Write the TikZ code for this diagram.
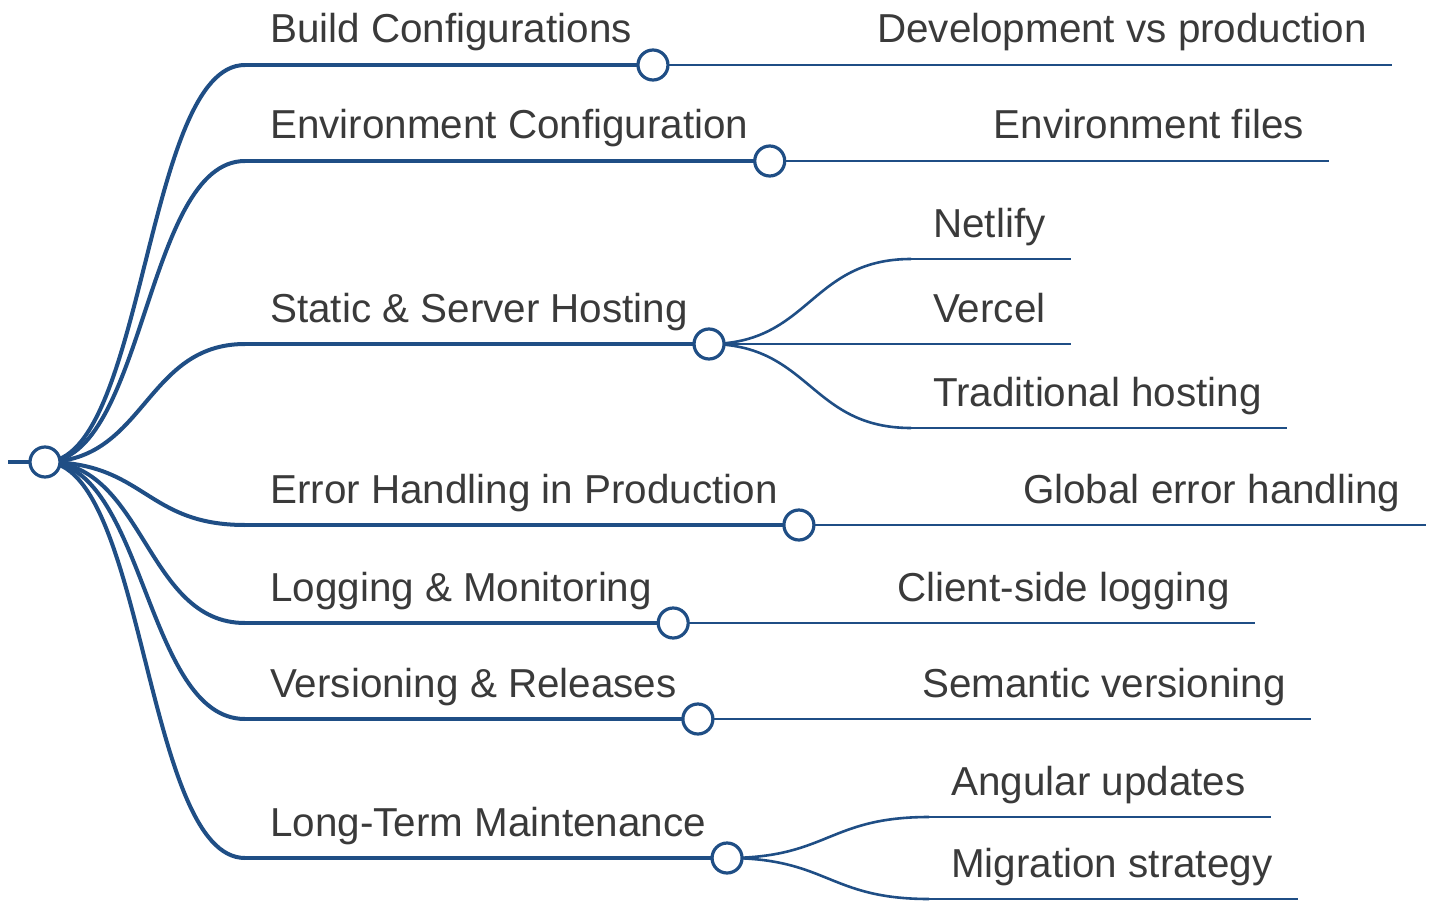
\documentclass[tikz,border=0pt]{standalone}
\usepackage{fontspec}
\setmainfont{Liberation Sans}
\usetikzlibrary{calc}
\definecolor{linec}{HTML}{1F4E85}
\definecolor{txtc}{HTML}{3A3A3A}
\tikzset{
  lbl/.style={text=txtc, inner sep=0pt, anchor=base west, font=\fontsize{40.4}{48}\selectfont},
  dot/.style={circle, draw=linec, fill=white, line width=3.2pt, minimum size=30pt, inner sep=0pt},
  rootline/.style={draw=linec, line width=4pt},
  midline/.style={draw=linec, line width=3.2pt},
  leafline/.style={draw=linec, line width=2.6pt},
}
\begin{document}
\begin{tikzpicture}[x=1pt,y=-1pt]
\useasboundingbox (0,0) rectangle (1431,901);

% root
\coordinate (rootstart) at (8,462);
\coordinate (rootc) at (45,462);

% first-level branches: start point, label, circle position
\foreach \y/\n/\t in {65/b1/Build Configurations,
                      161/b2/Environment Configuration,
                      344/b3/Static \& Server Hosting,
                      525/b4/Error Handling in Production,
                      623/b5/Logging \& Monitoring,
                      719/b6/Versioning \& Releases,
                      858/b7/Long-Term Maintenance} {
  \coordinate (s\n) at (245,\y);
  \node[lbl] (t\n) at (270,\y-22) {\t};
  \coordinate (c\n) at ($(t\n.base east)+(21,22)$);
  \draw[rootline] (rootc) .. controls +(100,0) and +(-100,0) .. (s\n);
  \draw[midline] (s\n) -- (c\n);
}

% leaves
\foreach \p/\d/\n/\t in {b1/0/k1/Development vs production,
                         b2/0/k2/Environment files,
                         b3/-85/k3/Netlify,
                         b3/0/k4/Vercel,
                         b3/84/k5/Traditional hosting,
                         b4/0/k6/Global error handling,
                         b5/0/k7/Client-side logging,
                         b6/0/k8/Semantic versioning,
                         b7/-41/k9/Angular updates,
                         b7/41/k10/Migration strategy} {
  \coordinate (s\n) at ($(c\p)+(202,\d)$);
  \node[lbl] (t\n) at ($(s\n)+(22,-22)$) {\t};
  \coordinate (e\n) at ($(t\n.base east)+(25,22)$);
  \draw[leafline] (c\p) .. controls +(101,0) and +(-101,0) .. (s\n);
  \draw[leafline] (s\n) -- (e\n);
}

% root stub and circles on top of the links
\draw[rootline] (rootstart) -- (rootc);
\node[dot] (root) at (rootc) {};
\foreach \n in {b1,b2,b3,b4,b5,b6,b7} {
  \node[dot] (o\n) at (c\n) {};
}
\end{tikzpicture}
\end{document}
